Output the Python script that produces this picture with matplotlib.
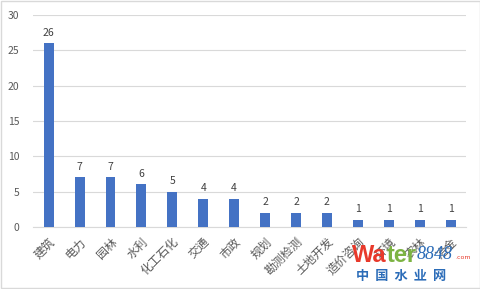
import matplotlib.pyplot as plt
import numpy as np

plt.rcParams['font.family'] = ['Noto Sans CJK SC', 'DejaVu Sans']

categories = ['建筑', '电力', '园林', '水利', '化工石化', '交通', '市政', '规划',
              '勘测检测', '土地开发', '造价咨询', '环境', '农林', '冶金']
counts = [26, 7, 7, 6, 5, 4, 4, 2, 2, 2, 1, 1, 1, 1]

fig = plt.figure(figsize=(4.81, 2.89), dpi=100)
fig.patches.append(plt.Rectangle((0.002, 0.003), 0.995, 0.993, transform=fig.transFigure,
                                 fill=False, edgecolor='#d9d9d9', linewidth=1))
ax = fig.add_axes([0.069, 0.215, 0.9, 0.733])

x = np.arange(len(categories))
bars = ax.bar(x, counts, width=0.32, color='#4472C4', zorder=3)
for xi, v in zip(x, counts):
    ax.text(xi, v + 0.8, str(v), ha='center', va='bottom', fontsize=7.5, color='#404040')

ax.set_xlim(-0.5, len(categories) - 0.5)
ax.set_ylim(0, 30)
ax.set_yticks(range(0, 31, 5))
ax.yaxis.grid(True, color='#d9d9d9', linewidth=0.8, zorder=0)
for s in ['top', 'right', 'left']:
    ax.spines[s].set_visible(False)
ax.spines['bottom'].set_color('#d9d9d9')
ax.tick_params(axis='both', length=0, labelsize=7.5, labelcolor='#595959')
ax.tick_params(axis='y', pad=10)
ax.tick_params(axis='x', pad=6)
ax.set_xticks(x)
ax.set_xticklabels(categories, rotation=45, ha='right', rotation_mode='anchor', fontsize=8.5)

# watermark
fig.text(0.731, 0.095, 'Wa', color='#e8392b', fontsize=17, fontweight='bold', family='Liberation Sans')
fig.text(0.805, 0.095, 'ter', color='#7cb342', fontsize=17, fontweight='bold', family='Liberation Sans')
fig.text(0.866, 0.105, '8848', color='#2b6cb8', fontsize=13, style='italic', family='Liberation Serif')
fig.text(0.978, 0.105, '.com', color='#e8392b', fontsize=4.5, family='DejaVu Sans', ha='right')
fig.text(0.74, 0.03, '中  国  水  业  网', color='#2b6cb8', fontsize=9.5, fontweight='bold')

fig.savefig('out.png', dpi=100)
